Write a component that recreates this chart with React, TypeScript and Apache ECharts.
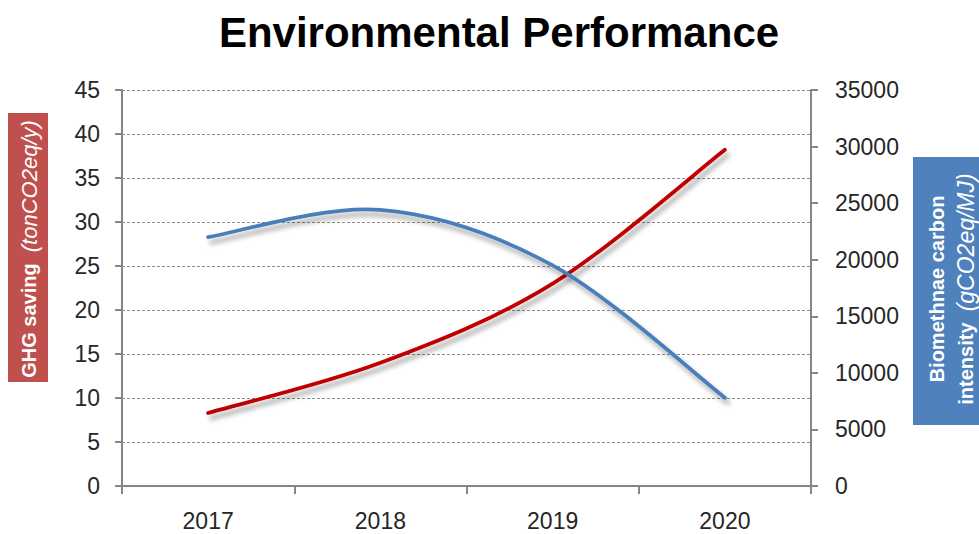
import React, { useEffect, useRef } from "react";
import * as echarts from "echarts";

const years = ["2017", "2018", "2019", "2020"];
const ghgSaving = [8.3, 14.0, 23.0, 38.2];
const carbonIntensity = [22000, 24400, 19500, 7800];
const titleText = "Environmental Performance";

function smoothPath(pts: number[][]): string {
  let d = `M${pts[0][0]},${pts[0][1]}`;
  for (let i = 0; i < pts.length - 1; i++) {
    const p0 = pts[i - 1] || pts[i];
    const p1 = pts[i];
    const p2 = pts[i + 1];
    const p3 = pts[i + 2] || pts[i + 1];
    const c1x = p1[0] + (p2[0] - p0[0]) / 6;
    const c1y = p1[1] + (p2[1] - p0[1]) / 6;
    const c2x = p2[0] - (p3[0] - p1[0]) / 6;
    const c2y = p2[1] - (p3[1] - p1[1]) / 6;
    d += ` C${c1x},${c1y} ${c2x},${c2y} ${p2[0]},${p2[1]}`;
  }
  return d;
}

function curveSeries(name: string, values: number[], axisIndex: number, color: string) {
  return {
    name,
    type: "custom",
    yAxisIndex: axisIndex,
    data: values.map((v, i) => [i, v]),
    encode: { x: 0, y: 1 },
    renderItem: (params: any, api: any) => {
      if (params.dataIndex !== 0) return null;
      const pts = values.map((v, i) => api.coord([i, v]));
      return {
        type: "path",
        silent: true,
        shape: { pathData: smoothPath(pts) },
        style: {
          fill: "none",
          stroke: color,
          lineWidth: 3.8,
          lineCap: "round",
          shadowColor: "rgba(0,0,0,0.35)",
          shadowBlur: 5,
          shadowOffsetX: 3,
          shadowOffsetY: 5,
        },
      };
    },
  };
}

export default function App() {
  const ref = useRef<HTMLDivElement>(null);
  useEffect(() => {
    if (!ref.current) return;
    const chart = echarts.init(ref.current, null, { renderer: "svg" });
    const axisColor = "#868686";
    const labelStyle = { color: "#262626", fontSize: 23, fontFamily: "Liberation Sans" };
    chart.setOption({
      animation: false,
      backgroundColor: "#ffffff",
      grid: { left: 122, right: 168, top: 90, bottom: 48, containLabel: false },
      graphic: [
        {
          type: "text",
          x: 499,
          y: 32,
          style: {
            text: titleText,
            align: "center",
            verticalAlign: "middle",
            fontSize: 42,
            fontWeight: "bold",
            fontFamily: "Liberation Sans",
            fill: "#000000",
          },
        },
        {
          type: "rect",
          shape: { x: 8, y: 113, width: 40, height: 269 },
          style: { fill: "#c0504d" },
        },
        {
          type: "text",
          x: 29,
          y: 249,
          rotation: Math.PI / 2,
          style: {
            text: "{b|GHG saving  }{i|(tonCO2eq/y)}",
            align: "center",
            verticalAlign: "middle",
            fill: "#ffffff",
            rich: {
              b: { fontSize: 20, fontWeight: "bold", fontFamily: "Liberation Sans", fill: "#ffffff" },
              i: { fontSize: 22, fontStyle: "italic", fontFamily: "Liberation Sans", fill: "#ffffff" },
            },
          },
        },
        {
          type: "rect",
          shape: { x: 913, y: 157, width: 70, height: 268 },
          style: { fill: "#4f81bd" },
        },
        {
          type: "text",
          x: 951,
          y: 289,
          rotation: Math.PI / 2,
          style: {
            text: "{b|Biomethnae carbon}\n{b|intensity  }{i|(gCO2eq/MJ)}",
            align: "center",
            verticalAlign: "middle",
            fill: "#ffffff",
            rich: {
              b: { fontSize: 20, fontWeight: "bold", fontFamily: "Liberation Sans", fill: "#ffffff", lineHeight: 29 },
              i: { fontSize: 23, fontStyle: "italic", fontFamily: "Liberation Sans", fill: "#ffffff", lineHeight: 29 },
            },
          },
        },
      ],
      xAxis: {
        type: "category",
        data: years,
        boundaryGap: true,
        axisLine: { lineStyle: { color: axisColor, width: 2 } },
        axisTick: { show: true, length: 8, lineStyle: { color: axisColor, width: 2 } },
        axisLabel: { ...labelStyle, margin: 23 },
        splitLine: { show: false },
      },
      yAxis: [
        {
          type: "value",
          min: 0,
          max: 45,
          interval: 5,
          axisLine: { show: true, lineStyle: { color: axisColor, width: 2 } },
          axisTick: { show: true, length: 7, lineStyle: { color: axisColor, width: 2 } },
          axisLabel: { ...labelStyle, margin: 22, formatter: (v: number) => String(v) },
          splitLine: { show: true, lineStyle: { color: "#8c8c8c", width: 1, type: [3, 2] } },
        },
        {
          type: "value",
          min: 0,
          max: 35000,
          interval: 5000,
          position: "right",
          axisLine: { show: true, lineStyle: { color: axisColor, width: 2 } },
          axisTick: { show: true, length: 7, lineStyle: { color: axisColor, width: 2 } },
          axisLabel: { ...labelStyle, margin: 24, formatter: (v: number) => String(v) },
          splitLine: { show: false },
        },
      ],
      series: [
        curveSeries("GHG saving", ghgSaving, 0, "#c00000"),
        curveSeries("Biomethane carbon intensity", carbonIntensity, 1, "#4a7ebb"),
      ],
    });
    return () => chart.dispose();
  }, []);
  return (
    <div
      ref={ref}
      style={{ position: "absolute", left: 0, top: 0, width: 979, height: 534 }}
    />
  );
}
